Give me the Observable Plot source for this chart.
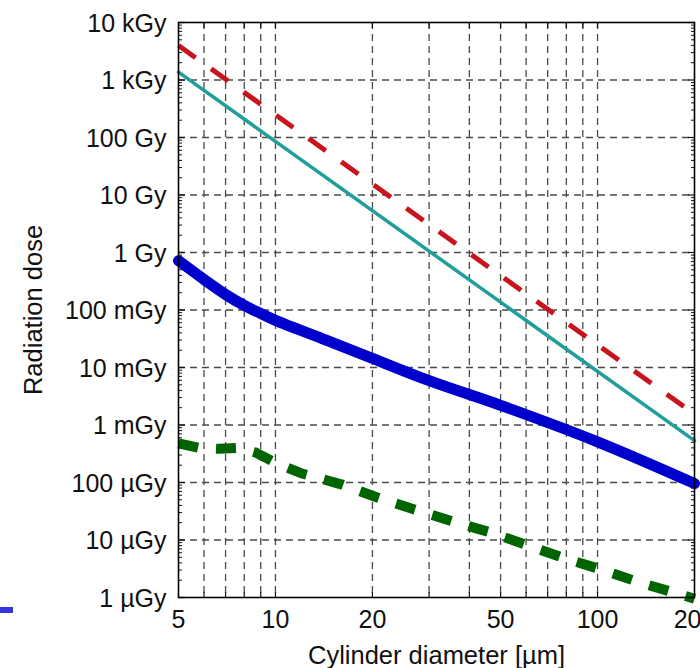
<!DOCTYPE html>
<html><head><meta charset="utf-8">
<script src="https://cdn.jsdelivr.net/npm/d3@7"></script>
<script src="https://cdn.jsdelivr.net/npm/@observablehq/plot@0.6"></script>
<style>
body{margin:0;background:#fff;}
#wrap{position:relative;width:700px;height:668px;overflow:hidden;}
#chip{position:absolute;left:0;top:607px;width:13px;height:6px;background:#3535d8;z-index:2;}
</style></head><body><div id="wrap"></div>
<script>
// ---- data (diameter in µm, dose in Gy) ----
const redD = [5, 200];
const redGy = [3980, 1.55e-3];
const tealD = [5, 200];
const tealGy = [1368, 5.34e-4];
const blueD = [5, 6, 7, 8, 9, 10, 14, 20, 30, 50, 100, 200];
const blueGy = [0.72, 0.34, 0.186, 0.12, 0.087, 0.066, 0.0316, 0.0144, 0.0059, 0.0022, 5.1e-4, 9.6e-5];
const greenD = [5, 5.8, 6.7, 7.7, 8.7, 10, 12, 16, 20.7, 27, 35.5, 46.6, 61, 79, 104, 136, 177, 200];
const greenGy = [4.8e-4, 4.0e-4, 3.85e-4, 4.0e-4, 3.3e-4, 2.2e-4, 1.45e-4, 9.3e-5, 5.5e-5, 3.4e-5, 2.1e-5, 1.35e-5, 8e-6, 4.8e-6, 3.0e-6, 1.8e-6, 1.17e-6, 9.5e-7];

// ---- ticks ----
const xLabelTicks = [5, 10, 20, 50, 100, 200];
const xGridTicks = [6, 7, 8, 9, 10, 20, 30, 40, 50, 60, 70, 80, 90, 100];
const yMajorTicks = [1e4, 1e3, 1e2, 1e1, 1, 1e-1, 1e-2, 1e-3, 1e-4, 1e-5, 1e-6];
const yTickLabels = ["10 kGy", "1 kGy", "100 Gy", "10 Gy", "1 Gy", "100 mGy", "10 mGy", "1 mGy", "100 µGy", "10 µGy", "1 µGy"];
const yGridTicks = [1e3, 1e2, 1e1, 1, 1e-1, 1e-2, 1e-3, 1e-4, 1e-5];
const minorMult = [2, 3, 4, 5, 6, 7, 8, 9];
const yMinorTicks = yMajorTicks.slice(1).flatMap(p => minorMult.map(m => m * p));

const xLabel = "Cylinder diameter [µm]";
const yLabel = "Radiation dose";

const toRows = (xs, ys) => xs.map((d, i) => ({d, gy: ys[i]}));
const yRows = yMajorTicks.map((v, i) => ({v, label: yTickLabels[i]}));
const font = "Liberation Sans, Arial, Helvetica, sans-serif";
const gridStyle = {stroke: "#4a4a4a", strokeWidth: 1.3, strokeDasharray: "7,5", strokeOpacity: 1};

const plot = Plot.plot({
  width: 700, height: 668,
  marginLeft: 178, marginRight: 6, marginTop: 22, marginBottom: 71,
  style: {fontFamily: font, background: "white", color: "#111"},
  x: {type: "log", domain: [5, 200]},
  y: {type: "log", domain: [1e-6, 1e4]},
  marks: [
    Plot.ruleY(yGridTicks, gridStyle),
    Plot.ruleX(xGridTicks, gridStyle),
    // inward minor/major ticks
    Plot.axisY(yMinorTicks, {anchor: "left", tickSize: -4, tickFormat: () => "", label: null, strokeWidth: 1}),
    Plot.axisY(yMinorTicks, {anchor: "right", tickSize: -4, tickFormat: () => "", label: null, strokeWidth: 1}),
    Plot.axisY(yMajorTicks, {anchor: "left", tickSize: -7, tickFormat: () => "", label: null, strokeWidth: 1.2}),
    Plot.axisY(yMajorTicks, {anchor: "right", tickSize: -7, tickFormat: () => "", label: null, strokeWidth: 1.2}),
    Plot.axisX(xGridTicks, {anchor: "bottom", tickSize: -5, tickFormat: () => "", label: null, strokeWidth: 1.2}),
    Plot.axisX(xGridTicks, {anchor: "top", tickSize: -5, tickFormat: () => "", label: null, strokeWidth: 1.2}),
    // tick labels
    Plot.text(yRows, {y: "v", text: "label", frameAnchor: "left", textAnchor: "end", dx: -12, dy: 1, fontSize: 25, fill: "#111"}),
    Plot.text(xLabelTicks, {x: d => d, text: d => String(d), frameAnchor: "bottom", lineAnchor: "top", dy: 13, fontSize: 25, fill: "#111"}),
    // axis titles
    Plot.text([xLabel], {frameAnchor: "bottom", textAnchor: "middle", lineAnchor: "middle", dy: 58, fontSize: 25.5, fill: "#111"}),
    Plot.text([yLabel], {frameAnchor: "left", textAnchor: "middle", lineAnchor: "middle", dx: -145, rotate: -90, fontSize: 25.5, fill: "#111"}),
    // series
    Plot.line(toRows(greenD, greenGy), {x: "d", y: "gy", stroke: "#006400", strokeWidth: 10, strokeDasharray: "20,18", strokeLinecap: "butt"}),
    Plot.line(toRows(blueD, blueGy), {x: "d", y: "gy", stroke: "#0000cc", strokeWidth: 11, curve: "catmull-rom"}),
    Plot.line(toRows(tealD, tealGy), {x: "d", y: "gy", stroke: "#1f9e9c", strokeWidth: 3.5}),
    Plot.line(toRows(redD, redGy), {x: "d", y: "gy", stroke: "#c8141c", strokeWidth: 5, strokeDasharray: "21,19", strokeLinecap: "butt"}),
    Plot.frame({stroke: "#000", strokeWidth: 1.6})
  ]
});
const wrap = document.getElementById("wrap");
wrap.appendChild(plot);
const chip = document.createElement("div");
chip.id = "chip";
wrap.appendChild(chip);
</script>
</body></html>
